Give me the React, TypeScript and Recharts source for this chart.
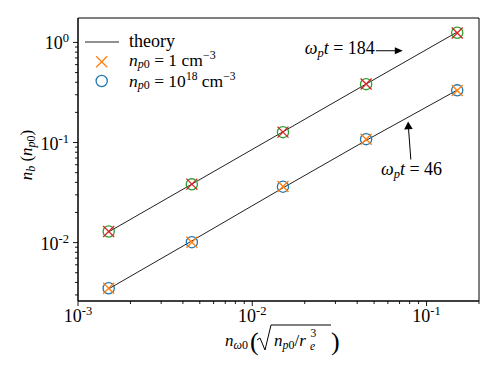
import React from 'react';
import { ScatterChart, Scatter, XAxis, YAxis, ReferenceArea, ReferenceDot, Legend } from 'recharts';

const FONT = "'Liberation Serif', 'Times New Roman', serif";
const TXT = { fontFamily: FONT } as React.CSSProperties;

// x: n_w0 (sqrt(n_p0 / r_e^3))
const nw0 = [0.0015, 0.0045, 0.015, 0.045, 0.15];
// theory curves
const theoryT184 = [0.0128, 0.0384, 0.128, 0.384, 1.27];
const theoryT46 = [0.00345, 0.0104, 0.0352, 0.105, 0.334];
// simulations, omega_p t = 184
const lowDensityT184 = [0.0129, 0.0384, 0.127, 0.384, 1.24];
const highDensityT184 = [0.0129, 0.0382, 0.127, 0.383, 1.25];
// simulations, omega_p t = 46
const lowDensityT46 = [0.0035, 0.0101, 0.0363, 0.108, 0.331];
const highDensityT46 = [0.0035, 0.0101, 0.0362, 0.108, 0.332];

const xTicks = [0.001, 0.002, 0.003, 0.004, 0.005, 0.006, 0.007, 0.008, 0.009, 0.01, 0.02, 0.03, 0.04, 0.05, 0.06, 0.07, 0.08, 0.09, 0.1, 0.2];
const xMajor = [0.001, 0.01, 0.1];
const xMajorExp = ['-3', '-2', '-1'];
const yTicks = [0.003, 0.004, 0.005, 0.006, 0.007, 0.008, 0.009, 0.01, 0.02, 0.03, 0.04, 0.05, 0.06, 0.07, 0.08, 0.09, 0.1, 0.2, 0.3, 0.4, 0.5, 0.6, 0.7, 0.8, 0.9, 1];
const yMajor = [0.01, 0.1, 1];
const yMajorExp = ['-2', '-1', '0'];

const X_DOMAIN: [number, number] = [0.001, 0.2];
const Y_DOMAIN: [number, number] = [0.00261, 1.754];

const toPoints = (ys: number[]) => nw0.map((x, i) => ({ x, y: ys[i] }));
const majorIndex = (v: number, majors: number[]) => majors.findIndex((m) => Math.abs(m - v) / m < 1e-6);

const BLUE = '#1f77b4';
const ORANGE = '#ff7f0e';
const GREEN = '#2ca02c';
const RED = '#d62728';

const XTick = (props: any) => {
  const { x, y, payload } = props;
  const i = majorIndex(payload.value, xMajor);
  const len = i >= 0 ? 5 : 3;
  return (
    <g>
      <line x1={x} y1={y} x2={x} y2={y + len} stroke="#000" strokeWidth={0.9} />
      {i >= 0 && (
        <text x={x} y={y + 21} textAnchor="middle" style={TXT} fontSize={18} fill="#000">
          10<tspan dy={-7} fontSize={12.5}>{xMajorExp[i]}</tspan>
        </text>
      )}
    </g>
  );
};

const YTick = (props: any) => {
  const { x, y, payload } = props;
  const i = majorIndex(payload.value, yMajor);
  const len = i >= 0 ? 5 : 3;
  return (
    <g>
      <line x1={x} y1={y} x2={x - len} y2={y} stroke="#000" strokeWidth={0.9} />
      {i >= 0 && (
        <text x={x - 9} y={y + 7} textAnchor="end" style={TXT} fontSize={18} fill="#000">
          10<tspan dy={-7} fontSize={12.5}>{yMajorExp[i]}</tspan>
        </text>
      )}
    </g>
  );
};

const XLabel = (props: any) => {
  const vb = props.viewBox || { x: 78, width: 401, y: 301 };
  const c = vb.x + vb.width / 2;
  const b = 346;
  const o = c - 278.5;
  return (
    <g style={TXT} fill="#000">
      <text x={225 + o} y={b} fontSize={17} style={TXT}>
        <tspan fontStyle="italic">n</tspan>
        <tspan dy={3} fontSize={12} fontStyle="italic">ω</tspan>
        <tspan fontSize={12}>0</tspan>
      </text>
      <text x={250 + o} y={b + 4} fontSize={26} style={TXT}>(</text>
      <path d={`M ${257 + o} ${b - 6} L ${260 + o} ${b - 8} L ${265 + o} ${b + 4} L ${271 + o} ${b - 21} L ${331 + o} ${b - 21}`} stroke="#000" strokeWidth={1} fill="none" />
      <text x={274 + o} y={b} fontSize={17} style={TXT}>
        <tspan fontStyle="italic">n</tspan>
        <tspan dy={3} fontSize={12} fontStyle="italic">p</tspan>
        <tspan fontSize={12}>0</tspan>
        <tspan dy={-3}>/</tspan>
        <tspan fontStyle="italic">r</tspan>
      </text>
      <text x={310.5 + o} y={b - 9} fontSize={11.5} style={TXT}>3</text>
      <text x={310 + o} y={b + 4} fontSize={11.5} fontStyle="italic" style={TXT}>e</text>
      <text x={331 + o} y={b + 4} fontSize={26} style={TXT}>)</text>
    </g>
  );
};

const YLabel = () => (
  <text transform="translate(32,155) rotate(-90)" textAnchor="middle" style={TXT} fontSize={17} fill="#000">
    <tspan fontStyle="italic">n</tspan>
    <tspan dy={3} fontSize={12} fontStyle="italic">b</tspan>
    <tspan dy={-3}> (</tspan>
    <tspan fontStyle="italic">n</tspan>
    <tspan dy={3} fontSize={12} fontStyle="italic">p</tspan>
    <tspan fontSize={12}>0</tspan>
    <tspan dy={-3}>)</tspan>
  </text>
);

const Circle = (color: string) => (props: any) => (
  <circle cx={props.cx} cy={props.cy} r={5.6} fill="none" stroke={color} strokeWidth={1.3} />
);
const Cross = (color: string) => (props: any) => {
  const { cx, cy } = props;
  const s = 5.5;
  return (
    <g stroke={color} strokeWidth={1.3}>
      <line x1={cx - s} y1={cy - s} x2={cx + s} y2={cy + s} />
      <line x1={cx - s} y1={cy + s} x2={cx + s} y2={cy - s} />
    </g>
  );
};

const NoMark = () => <g />;

const Annot184 = (props: any) => {
  const { cx, cy } = props;
  return (
    <g>
      <line x1={cx - 27} y1={cy} x2={cx - 7} y2={cy} stroke="#000" strokeWidth={1} />
      <polygon points={`${cx},${cy} ${cx - 8},${cy - 3.5} ${cx - 8},${cy + 3.5}`} fill="#000" />
      <text x={cx - 28} y={cy + 3} textAnchor="end" style={TXT} fontSize={18} fill="#000">
        <tspan fontStyle="italic">ω</tspan>
        <tspan dy={3} fontSize={12.5} fontStyle="italic">p</tspan>
        <tspan dy={-3} fontStyle="italic">t</tspan>
        <tspan> = 184</tspan>
      </text>
    </g>
  );
};

const Annot46 = (props: any) => {
  const { cx, cy } = props;
  return (
    <g>
      <line x1={cx + 2.7} y1={cy + 38} x2={cx + 0.4} y2={cy + 7} stroke="#000" strokeWidth={1} />
      <polygon points={`${cx},${cy} ${cx - 4},${cy + 8} ${cx + 4.6},${cy + 7.5}`} fill="#000" />
      <text x={cx + 3.4} y={cy + 53} textAnchor="middle" style={TXT} fontSize={18} fill="#000">
        <tspan fontStyle="italic">ω</tspan>
        <tspan dy={3} fontSize={12.5} fontStyle="italic">p</tspan>
        <tspan dy={-3} fontStyle="italic">t</tspan>
        <tspan> = 46</tspan>
      </text>
    </g>
  );
};

const LegendBox = () => (
  <svg width={180} height={65} style={{ overflow: 'visible', display: 'block' }}>
    <g style={TXT} fill="#000">
      <line x1={5} y1={12} x2={39} y2={12} stroke="#222" strokeWidth={1} />
      <text x={49} y={17} fontSize={18} style={TXT}>theory</text>
      <g stroke={ORANGE} strokeWidth={1.3}>
        <line x1={16.2} y1={26.2} x2={27.2} y2={37.2} />
        <line x1={16.2} y1={37.2} x2={27.2} y2={26.2} />
      </g>
      <text x={49} y={35.5} fontSize={17.5} style={TXT}>
        <tspan fontStyle="italic">n</tspan>
        <tspan dy={2.5} fontSize={12} fontStyle="italic">p</tspan>
        <tspan fontSize={12}>0</tspan>
        <tspan dy={-2.5}> = 1 cm</tspan>
        <tspan dy={-7} fontSize={12}>−3</tspan>
      </text>
      <circle cx={21.7} cy={51} r={5.6} fill="none" stroke={BLUE} strokeWidth={1.3} />
      <text x={49} y={56.5} fontSize={17.5} style={TXT}>
        <tspan fontStyle="italic">n</tspan>
        <tspan dy={2.5} fontSize={12} fontStyle="italic">p</tspan>
        <tspan fontSize={12}>0</tspan>
        <tspan dy={-2.5}> = 10</tspan>
        <tspan dy={-6.5} fontSize={11.5}>18</tspan>
        <tspan dy={6.5}> cm</tspan>
        <tspan dy={-6.5} fontSize={11.5}>−3</tspan>
      </text>
    </g>
  </svg>
);

export default function App() {
  return (
    <div style={{ position: 'absolute', left: 0, top: 0, width: 498, height: 374, background: '#fff', fontFamily: FONT }}>
      <ScatterChart width={498} height={374} margin={{ top: 18, right: 19, bottom: 0, left: 0 }} style={TXT}>
        <XAxis
          dataKey="x"
          type="number"
          scale="log"
          domain={X_DOMAIN}
          allowDataOverflow
          ticks={xTicks}
          interval={0}
          tick={<XTick />}
          tickSize={0}
          tickMargin={0}
          tickLine={false}
          axisLine={{ stroke: '#000', strokeWidth: 1 }}
          height={73}
          label={<XLabel />}
        />
        <YAxis
          dataKey="y"
          type="number"
          scale="log"
          domain={Y_DOMAIN}
          allowDataOverflow
          ticks={yTicks}
          interval={0}
          tick={<YTick />}
          tickSize={0}
          tickMargin={0}
          tickLine={false}
          axisLine={{ stroke: '#000', strokeWidth: 1 }}
          width={78}
          label={<YLabel />}
        />
        <ReferenceArea x1={X_DOMAIN[0]} x2={X_DOMAIN[1]} y1={Y_DOMAIN[0]} y2={Y_DOMAIN[1]} fill="none" fillOpacity={0} stroke="#000" strokeWidth={1} ifOverflow="visible" />
        <Scatter data={toPoints(theoryT184)} line={{ stroke: '#222', strokeWidth: 1 }} shape={NoMark} isAnimationActive={false} legendType="none" />
        <Scatter data={toPoints(theoryT46)} line={{ stroke: '#222', strokeWidth: 1 }} shape={NoMark} isAnimationActive={false} legendType="none" />
        <Scatter data={toPoints(highDensityT46)} shape={Circle(BLUE)} isAnimationActive={false} legendType="none" />
        <Scatter data={toPoints(lowDensityT46)} shape={Cross(ORANGE)} isAnimationActive={false} legendType="none" />
        <Scatter data={toPoints(highDensityT184)} shape={Circle(GREEN)} isAnimationActive={false} legendType="none" />
        <Scatter data={toPoints(lowDensityT184)} shape={Cross(RED)} isAnimationActive={false} legendType="none" />
        <ReferenceDot x={0.0731} y={0.826} shape={<Annot184 />} ifOverflow="visible" />
        <ReferenceDot x={0.0784} y={0.162} shape={<Annot46 />} ifOverflow="visible" />
        <Legend
          layout="horizontal"
          verticalAlign="middle"
          align="center"
          content={() => <LegendBox />}
          wrapperStyle={{ position: 'absolute', left: 80, top: 30, width: 180, height: 65 }}
        />
      </ScatterChart>
    </div>
  );
}
